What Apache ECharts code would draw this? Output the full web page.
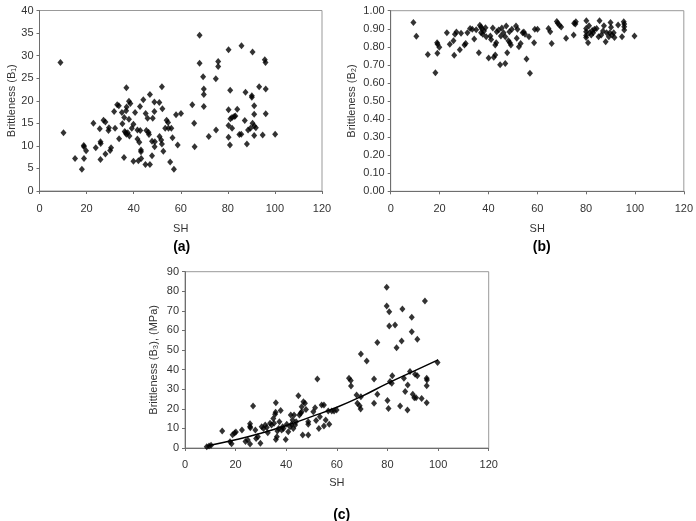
<!DOCTYPE html>
<html>
<head>
<meta charset="utf-8">
<script src="https://cdn.jsdelivr.net/npm/echarts@6/dist/echarts.min.js"></script>
<style>
    html, body { margin: 0; padding: 0; background: #fff; }
    #main { width: 696px; height: 521px; }
</style>
</head>
<body>
<div id="main"></div>
<script>
// (a) SH vs Brittleness B1
var pointsA = [
    [8.9,28.5],[10.2,12.9],[15.1,7.2],[18,4.8],[18.8,10.1],[18.9,9.8],[18.9,7.2],[19.8,8.9],[22.9,15.0],[23.9,9.6],
    [25.6,13.8],[25.9,10.9],[26,10.5],[25.9,7.0],[27.2,15.7],[28,15.3],[28,8.2],[29.3,13.4],[29.5,14.0],[30,9.0],
    [30.4,9.6],[31.7,17.6],[32.1,13.9],[33,19.1],[33.7,18.9],[33.8,11.6],[35,17.4],[35.2,14.9],[35.9,7.4],[36,16.3],
    [36.2,13.2],[36.6,12.9],[36.9,12.6],[36.9,22.9],[37,18.6],[36.8,17.8],[37.5,12.9],[38,15.9],[38,19.9],[38.6,19.4],
    [38.2,12.2],[39.2,13.9],[39.9,14.8],[39.9,6.6],[40.6,17.4],[41.6,13.5],[41.6,11.5],[42,6.7],[42.4,10.8],[42.7,18.7],
    [42.8,13.4],[43.1,9.1],[43.1,8.7],[43.2,7.2],[44.1,20.2],[45,5.9],[45.1,17.2],[45.4,13.4],[45.9,16.1],[46.5,12.5],
    [46.3,13.0],[46.9,21.4],[46.9,5.9],[47.8,7.8],[47.8,11.0],[48.1,16.1],[48.8,19.7],[48.8,17.6],[48.9,9.8],[49,10.9],
    [50.9,19.6],[51,12.1],[51.7,11.3],[52,10.4],[52,23.1],[52.2,18.2],[52.6,8.8],[53.4,13.9],[54,15.7],[54.6,15.2],
    [54.8,13.9],[55.5,6.4],[56,13.9],[56.5,11.8],[57.1,4.8],[58,16.9],[58.7,10.2],[60.1,17.2],[64.9,19.1],[65.7,15.0],
    [65.9,9.8],[68,34.5],[68,28.3],[69.5,25.3],[69.8,22.6],[69.8,21.4],[69.8,18.7],[71.9,12.1],[74.9,24.9],[75,13.5],
    [75.9,28.7],[75.9,27.6],[80.3,31.3],[80.3,18],[80.3,14.5],[80.3,11.9],[80.9,10.2],[81,22.3],[81.1,16.0],[81.8,16.3],
    [82.7,16.5],[83.2,16.6],[81.8,13.9],[84,18.1],[84.9,12.5],[85.7,12.6],[85.8,32.2],[87.2,15.6],[87.5,21.9],[88.1,10.4],
    [88.6,13.5],[89.6,13.9],[90.2,21.1],[90.2,20.8],[90.5,30.8],[90.5,15.0],[91.2,14.4],[91.2,18.9],[91.2,17.0],[91.2,12.3],
    [91.9,14.0],[93.3,23.1],[94.8,12.4],[95.7,29.1],[96,28.5],[96.1,22.6],[96.1,17.1],[100.1,12.6]
];

// (b) SH vs Brittleness B2
var pointsB = [
    [9.3,0.934],[10.5,0.858],[15.2,0.758],[18.3,0.657],[19,0.823],[19.2,0.814],[19.1,0.764],[19.9,0.797],[23,0.878],[24.2,0.814],
    [25.7,0.834],[26,0.753],[26.3,0.869],[26.9,0.882],[28.3,0.784],[28.8,0.875],[30.2,0.81],[30.7,0.819],[31.4,0.878],[32.5,0.902],
    [33.4,0.897],[34.2,0.843],[35,0.895],[36.1,0.767],[36.5,0.92],[37,0.91],[37,0.878],[37.4,0.898],[37.7,0.869],[38.2,0.887],
    [38.8,0.906],[39.1,0.856],[40.1,0.738],[40.8,0.86],[41.1,0.84],[41.8,0.904],[42.2,0.742],[42.8,0.755],[42.8,0.81],[43.2,0.823],
    [43.4,0.884],[44.2,0.893],[44.8,0.701],[45.1,0.86],[45.5,0.904],[46.9,0.708],[46.2,0.878],[46.9,0.856],[47.3,0.915],[47.7,0.767],
    [48.2,0.834],[48.8,0.823],[49.2,0.81],[48.6,0.884],[49.6,0.897],[51.3,0.915],[51.9,0.897],[51.6,0.847],[52.5,0.801],[53.2,0.819],
    [54,0.878],[54.5,0.882],[55,0.869],[55.6,0.732],[56.6,0.856],[57,0.653],[58.7,0.823],[59,0.897],[60.1,0.897],[64.6,0.902],
    [65.3,0.884],[65.9,0.819],[68,0.94],[68.4,0.93],[69.1,0.92],[69.8,0.91],[71.8,0.847],[74.9,0.865],[75.1,0.93],[75.8,0.939],
    [75.6,0.926],[80.1,0.945],[80,0.902],[80,0.884],[80,0.862],[80,0.851],[80.8,0.823],[81.2,0.917],[81.4,0.878],[82.1,0.865],
    [82.5,0.891],[82.9,0.878],[83.4,0.897],[84.3,0.902],[85.5,0.945],[85.1,0.856],[86.2,0.865],[86.9,0.887],[87.3,0.917],[88,0.828],
    [88.4,0.878],[89.3,0.856],[89.7,0.878],[90,0.935],[90.2,0.908],[90.6,0.865],[91.3,0.878],[91.6,0.852],[93.1,0.921],[94.7,0.856],
    [95.4,0.939],[95.6,0.926],[95.6,0.911],[95.6,0.893],[99.8,0.86]
];

// (c) SH vs Brittleness B3 (MPa)
var pointsC = [
    [8.6,0.7],[9.5,1.0],[10.3,1.4],[14.7,8.7],[17.8,3.2],[18.4,2.2],[18.8,6.8],[19.6,7.6],[20.1,8.2],[22.5,9.2],
    [23.9,3.3],[24.8,4.1],[25.7,12.4],[25.7,11.0],[25.8,10.3],[25.7,2.1],[26.9,21.4],[27.8,9.2],[28.1,4.8],[28.8,5.8],
    [29.8,2.4],[30.3,10.9],[31,10.0],[31.7,11.7],[32.3,10.5],[32.7,7.8],[33.6,12.6],[34.2,11.7],[34.9,15.1],[35.2,12.6],
    [35.6,17.2],[35.8,18.2],[35.9,23.1],[35.9,4.4],[36.3,5.8],[36.5,8.7],[37,10.0],[37.3,13.4],[37.8,19.2],[38.2,9.2],
    [38.6,10.9],[38.9,10.0],[39.8,4.4],[40.2,12.1],[40.8,8.3],[41.5,10.9],[41.8,16.8],[42.1,12.1],[42.5,14.3],[42.8,10.0],
    [43.1,16.8],[43.5,11.7],[43.9,13.4],[44.8,26.7],[45.2,16.8],[45.7,17.7],[46.1,18.5],[46.1,21.1],[46.5,6.6],[46.8,23.6],
    [47.4,22.8],[47.8,19.7],[48.7,6.6],[48.7,13.4],[48.7,12.1],[50.7,18.5],[51.4,20.6],[51.8,14],[52.3,35.2],[52.9,10],
    [53.3,16],[54,21.9],[54.9,21.9],[54.9,11.2],[55.6,14.3],[56.6,18.9],[57,12.1],[58,18.9],[58.9,18.9],[59.9,19.4],
    [64.8,35.6],[65.5,34.4],[65.6,31.6],[67.8,27],[68.1,22.8],[69,21.6],[69.4,19.9],[69.5,48],[69.5,26.2],[71.8,44.4],
    [74.7,35.2],[74.7,22.8],[76,53.9],[76,27.4],[79.7,82],[79.7,72.5],[80,24.2],[80.4,20.2],[80.7,69.6],[80.7,62.3],
    [81,33.9],[81.7,33],[81.9,36.9],[83,62.8],[83.6,51.2],[85,21.4],[85.6,54.6],[85.9,70.9],[86.5,35.6],[87,28.8],
    [87.9,19.4],[88,32.2],[88.9,39],[89.6,66.7],[89.6,59.4],[90,27.4],[90.6,25.7],[91.3,25.7],[90.9,37.6],[91.8,36.9],
    [91.8,55.5],[93.5,25.3],[94.8,75],[95.5,35.6],[95.6,34.7],[95.5,31.8],[95.5,23.1],[99.8,43.6]
];

// trend line of (c)
var trendC = [[9,1.2],[20,4.2],[30,7.5],[40,11.5],[50,16],[60,20.8],[70,26.5],[80,33],[90,39],[100,45]];

var font = 'Liberation Sans';
var axisColor = '#6e6e6e';

function makeX(idx, gap, margin) {
    return {
        type: 'value', gridIndex: idx, min: 0, max: 120, interval: 20,
        name: 'SH', nameLocation: 'middle', nameGap: gap,
        nameTextStyle: { color: '#333', fontSize: 11, fontFamily: font },
        axisLine: { show: true, lineStyle: { color: axisColor } },
        axisTick: { show: true, length: 3, lineStyle: { color: axisColor } },
        axisLabel: { margin: margin, color: '#333', fontSize: 11, fontFamily: font },
        splitLine: { show: false }
    };
}

function makeY(idx, name, max, interval, gap, fmt) {
    return {
        type: 'value', gridIndex: idx, min: 0, max: max, interval: interval,
        name: name, nameLocation: 'middle', nameGap: gap,
        nameTextStyle: { color: '#333', fontSize: 11, fontFamily: font },
        axisLine: { show: true, lineStyle: { color: axisColor } },
        axisTick: { show: true, length: 3, lineStyle: { color: axisColor } },
        axisLabel: { margin: 6, color: '#333', fontSize: 11, fontFamily: font, formatter: fmt },
        splitLine: { show: false }
    };
}

var dots = { color: '#000' };

var myChart = echarts.init(document.getElementById('main'));
myChart.setOption({
    animation: false,
    grid: [
        { left: 39.5, top: 10.5, width: 282.5, height: 180.5, show: true, borderColor: '#999', borderWidth: 1 },
        { left: 390.7, top: 10.7, width: 297, height: 180.6, show: true, borderColor: '#999', borderWidth: 1 },
        { left: 185, top: 271.7, width: 303.7, height: 176.3, show: true, borderColor: '#999', borderWidth: 1 }
    ],
    xAxis: [ makeX(0, 32, 12), makeX(1, 32, 12), makeX(2, 29, 11) ],
    yAxis: [
        makeY(0, 'Brittleness (B\u2081)', 40, 5, 22),
        makeY(1, 'Brittleness (B\u2082)', 1, 0.1, 33, function (v) { return v.toFixed(2); }),
        makeY(2, 'Brittleness (B\u2083), (MPa)', 90, 10, 26)
    ],
    graphic: [
        { type: 'text', x: 181.7, y: 247, style: { text: '(a)', align: 'center', verticalAlign: 'middle', font: 'bold 14px Liberation Sans', fill: '#000' } },
        { type: 'text', x: 541.7, y: 247, style: { text: '(b)', align: 'center', verticalAlign: 'middle', font: 'bold 14px Liberation Sans', fill: '#000' } },
        { type: 'text', x: 341.7, y: 515, style: { text: '(c)', align: 'center', verticalAlign: 'middle', font: 'bold 14px Liberation Sans', fill: '#000' } }
    ],
    series: [
        { type: 'scatter', xAxisIndex: 0, yAxisIndex: 0, data: pointsA, symbol: 'diamond', symbolSize: [6, 7], itemStyle: dots },
        { type: 'scatter', xAxisIndex: 1, yAxisIndex: 1, data: pointsB, symbol: 'diamond', symbolSize: [6, 7], itemStyle: dots },
        { type: 'scatter', xAxisIndex: 2, yAxisIndex: 2, data: pointsC, symbol: 'diamond', symbolSize: [6, 7], itemStyle: dots },
        {
            type: 'line', xAxisIndex: 2, yAxisIndex: 2, data: trendC, smooth: true,
            showSymbol: false, lineStyle: { color: '#000', width: 1.5 }, z: 3
        }
    ]
});
</script>
</body>
</html>
